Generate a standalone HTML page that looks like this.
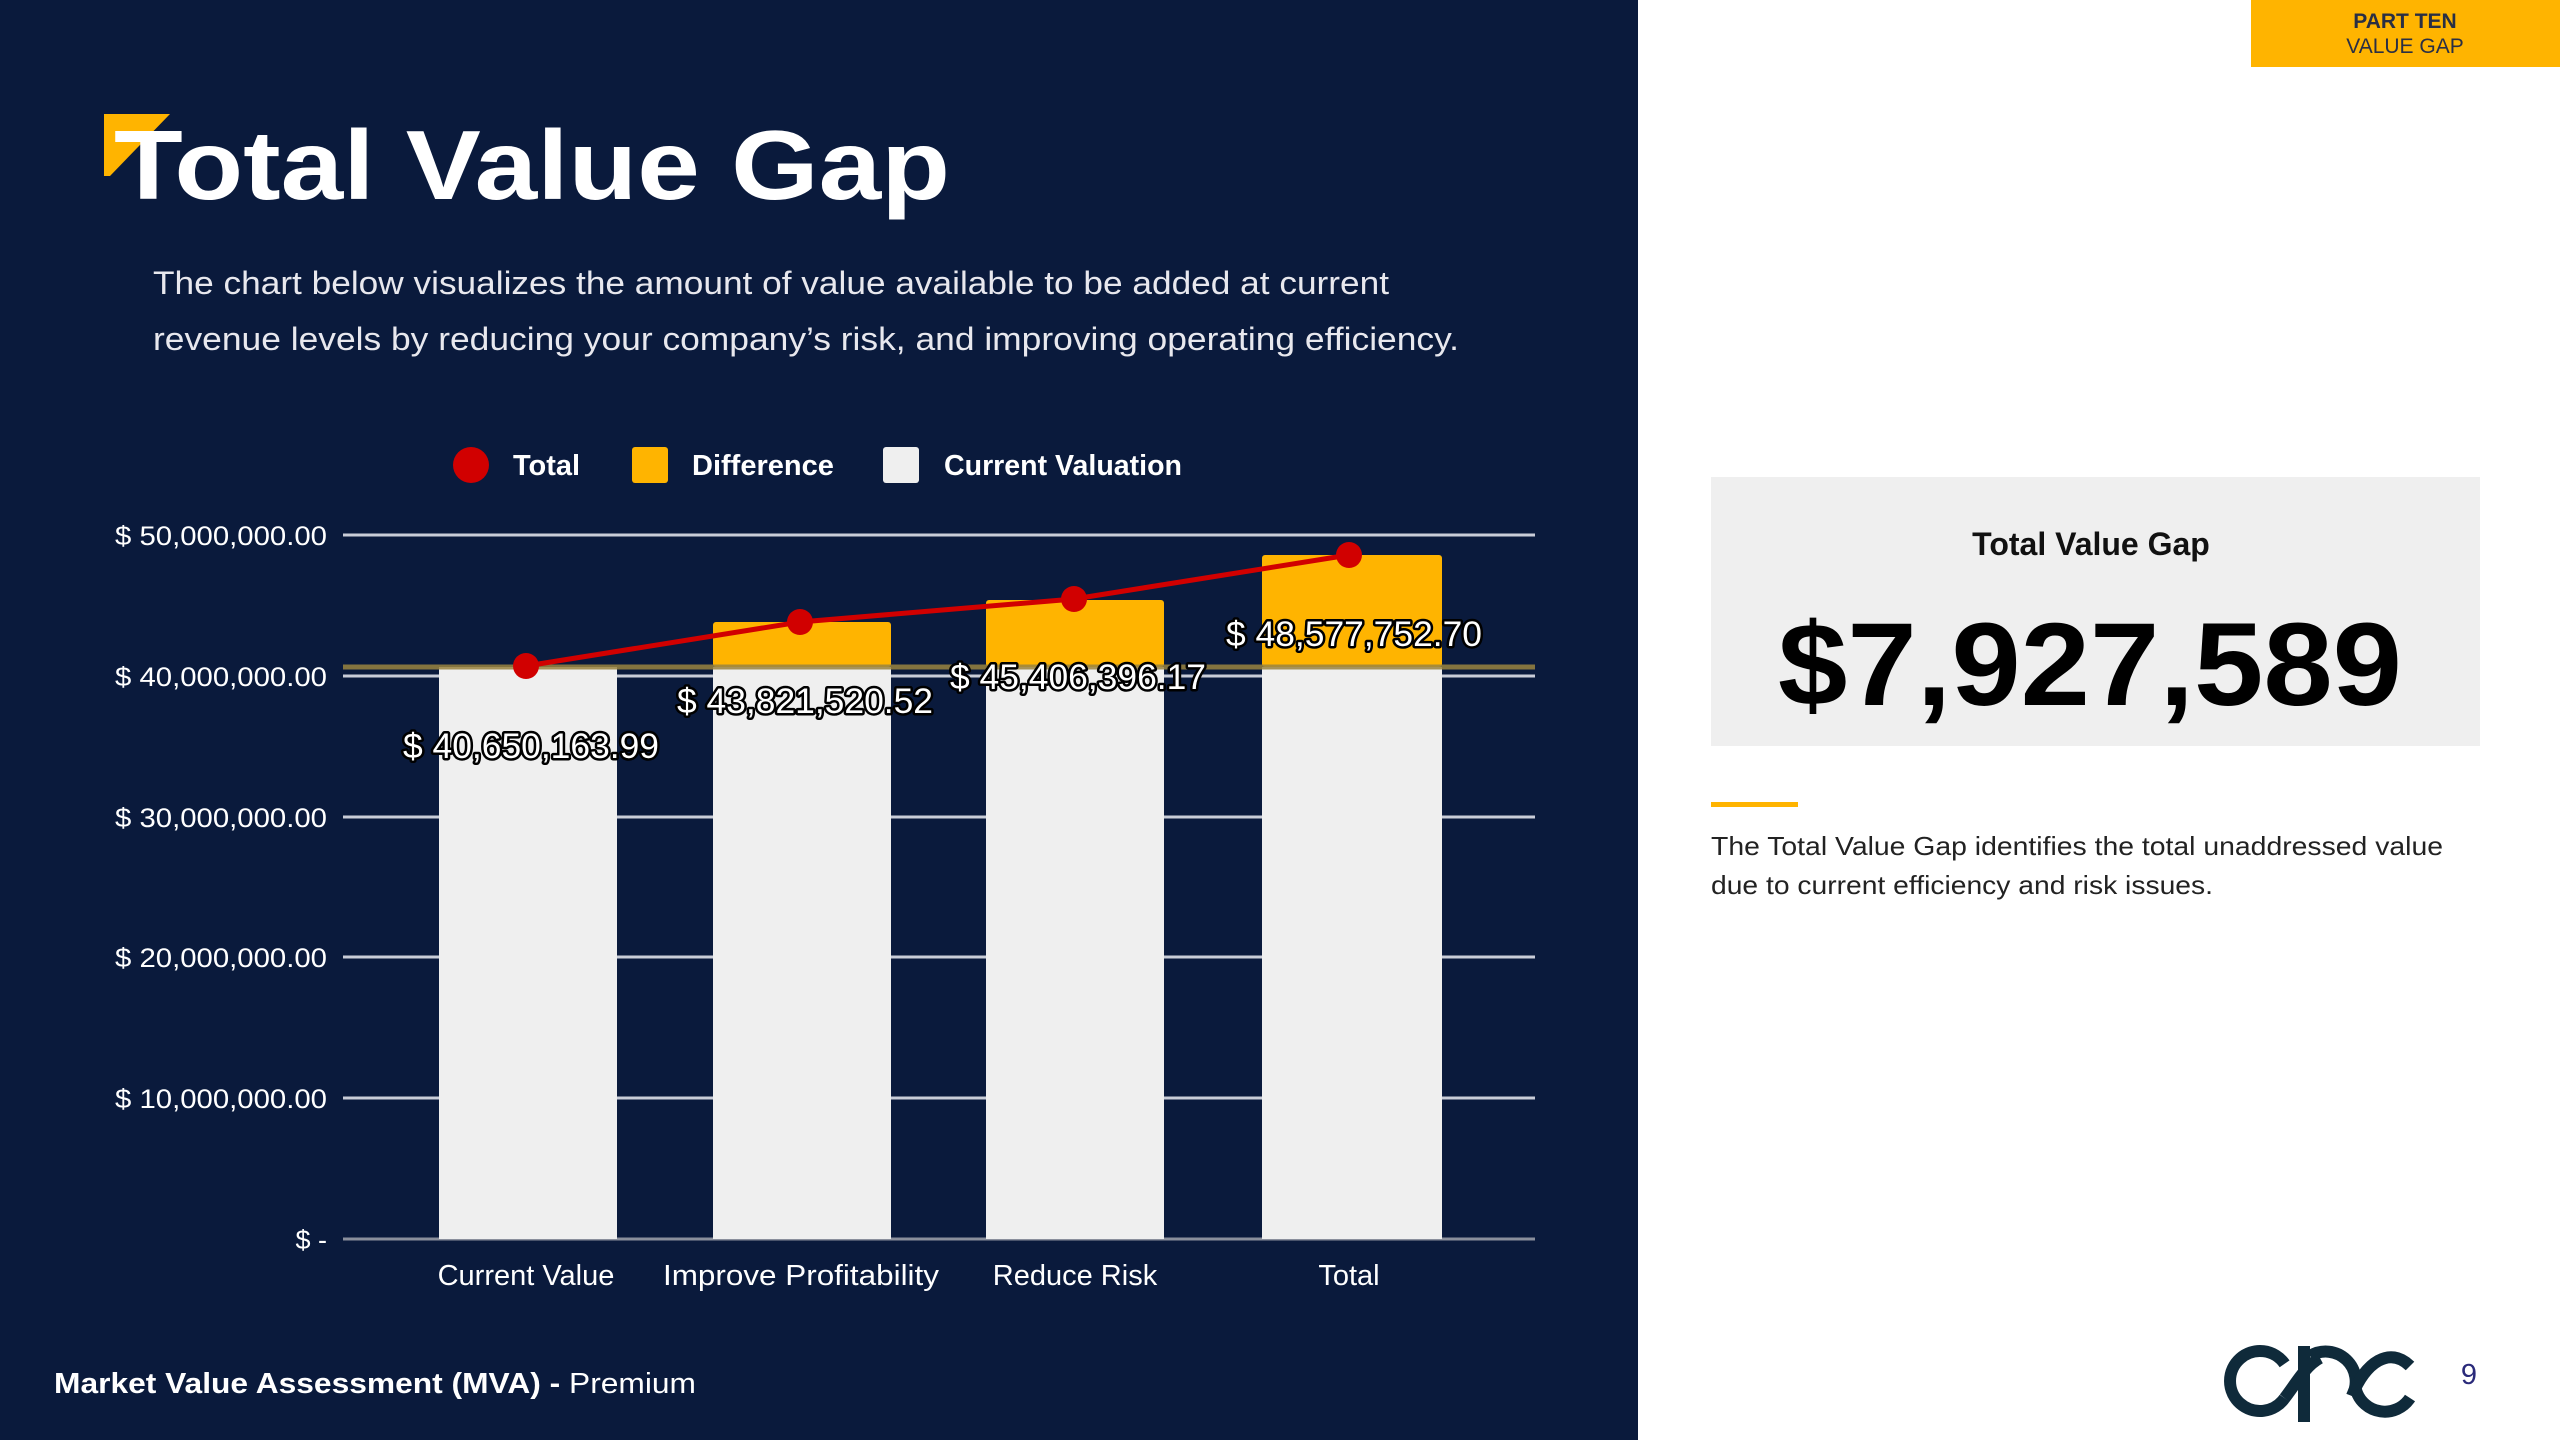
<!DOCTYPE html>
<html><head><meta charset="utf-8"><style>
html,body{margin:0;padding:0;width:2560px;height:1440px;overflow:hidden;background:#fff}
svg{display:block}
text{font-family:"Liberation Sans",sans-serif}
</style></head><body>
<svg width="2560" height="1440" viewBox="0 0 2560 1440" xmlns="http://www.w3.org/2000/svg">
<rect x="0" y="0" width="1638" height="1440" fill="#0a1a3c"/>
<!-- flag -->
<polygon points="104,114 170,114 110,176 104,176" fill="#ffb400"/>
<text x="114" y="199" font-size="98" font-weight="bold" fill="#fff" textLength="836" lengthAdjust="spacingAndGlyphs">Total Value Gap</text>
<text x="153" y="294" font-size="32" fill="#e8e8ee" textLength="1236" lengthAdjust="spacingAndGlyphs">The chart below visualizes the amount of value available to be added at current</text>
<text x="153" y="350" font-size="32" fill="#e8e8ee" textLength="1306" lengthAdjust="spacingAndGlyphs">revenue levels by reducing your company’s risk, and improving operating efficiency.</text>
<!-- legend -->
<circle cx="471" cy="465" r="18" fill="#d10000"/>
<text x="513" y="475" font-size="29" font-weight="bold" fill="#fff">Total</text>
<rect x="632" y="447" width="36" height="36" rx="3" fill="#ffb400"/>
<text x="692" y="475" font-size="29" font-weight="bold" fill="#fff">Difference</text>
<rect x="883" y="447" width="36" height="36" rx="3" fill="#efefef"/>
<text x="944" y="475" font-size="29" font-weight="bold" fill="#fff" textLength="238" lengthAdjust="spacingAndGlyphs">Current Valuation</text>
<!-- gridlines -->
<g stroke="#c9cdd8" stroke-width="3">
<line x1="343" y1="535" x2="1535" y2="535"/>
<line x1="343" y1="676" x2="1535" y2="676"/>
<line x1="343" y1="817" x2="1535" y2="817"/>
<line x1="343" y1="957" x2="1535" y2="957"/>
<line x1="343" y1="1098" x2="1535" y2="1098"/>
<line x1="343" y1="1239" x2="1535" y2="1239" stroke="#8a8f9c"/>
</g>
<g font-size="27" fill="#fff" text-anchor="end">
<text x="327" y="545" textLength="212" lengthAdjust="spacingAndGlyphs">$ 50,000,000.00</text>
<text x="327" y="686" textLength="212" lengthAdjust="spacingAndGlyphs">$ 40,000,000.00</text>
<text x="327" y="827" textLength="212" lengthAdjust="spacingAndGlyphs">$ 30,000,000.00</text>
<text x="327" y="967" textLength="212" lengthAdjust="spacingAndGlyphs">$ 20,000,000.00</text>
<text x="327" y="1108" textLength="212" lengthAdjust="spacingAndGlyphs">$ 10,000,000.00</text>
<text x="327" y="1249">$ -</text>
</g>
<!-- bars -->
<g fill="#efefef">
<rect x="439" y="667" width="178" height="572"/>
<rect x="713" y="667" width="178" height="572"/>
<rect x="986" y="667" width="178" height="572"/>
<rect x="1262" y="667" width="180" height="572"/>
</g>
<g fill="#ffb400">
<rect x="713" y="622" width="178" height="45" rx="3"/>
<rect x="986" y="600" width="178" height="67" rx="3"/>
<rect x="1262" y="555" width="180" height="112" rx="3"/>
</g>
<line x1="343" y1="667" x2="1535" y2="667" stroke="#9a8440" stroke-width="5" opacity="0.85"/>
<polyline points="526,666 800,622 1074,599 1349,555" fill="none" stroke="#d10000" stroke-width="5"/>
<g fill="#d10000">
<circle cx="526" cy="666" r="13"/><circle cx="800" cy="622" r="13"/><circle cx="1074" cy="599" r="13"/><circle cx="1349" cy="555" r="13"/>
</g>
<g font-size="35" fill="#fff" stroke="#000" stroke-width="5" paint-order="stroke" stroke-linejoin="round" text-anchor="middle">
<text x="531" y="758" textLength="256" lengthAdjust="spacingAndGlyphs">$ 40,650,163.99</text>
<text x="805" y="713" textLength="256" lengthAdjust="spacingAndGlyphs">$ 43,821,520.52</text>
<text x="1078" y="689" textLength="256" lengthAdjust="spacingAndGlyphs">$ 45,406,396.17</text>
<text x="1354" y="646" textLength="256" lengthAdjust="spacingAndGlyphs">$ 48,577,752.70</text>
</g>
<g font-size="29" fill="#fff" text-anchor="middle">
<text x="526" y="1285">Current Value</text>
<text x="801" y="1285" textLength="276" lengthAdjust="spacingAndGlyphs">Improve Profitability</text>
<text x="1075" y="1285">Reduce Risk</text>
<text x="1349" y="1285">Total</text>
</g>
<text x="54" y="1393" font-size="29" fill="#fff" textLength="642" lengthAdjust="spacingAndGlyphs"><tspan font-weight="bold">Market Value Assessment (MVA) - </tspan>Premium</text>
<!-- right side -->
<rect x="2251" y="0" width="309" height="67" fill="#ffb400"/>
<text x="2405" y="28" font-size="21" font-weight="bold" fill="#2a2f44" text-anchor="middle">PART TEN</text>
<text x="2405" y="53" font-size="21" fill="#2a2f44" text-anchor="middle">VALUE GAP</text>
<rect x="1711" y="477" width="769" height="269" fill="#efefef"/>
<text x="2091" y="555" font-size="32" font-weight="bold" fill="#111" text-anchor="middle">Total Value Gap</text>
<text x="2090" y="705" font-size="118" font-weight="bold" fill="#000" text-anchor="middle" textLength="624" lengthAdjust="spacingAndGlyphs">$7,927,589</text>
<rect x="1711" y="802" width="87" height="5" fill="#ffb400"/>
<text x="1711" y="855" font-size="26" fill="#222" textLength="732" lengthAdjust="spacingAndGlyphs">The Total Value Gap identifies the total unaddressed value</text>
<text x="1711" y="894" font-size="26" fill="#222" textLength="502" lengthAdjust="spacingAndGlyphs">due to current efficiency and risk issues.</text>
<!-- logo -->
<g fill="none" stroke="#0f2a3a" stroke-width="12">
<path d="M2284.6,1363.8 A30,30 0 1 0 2284.6,1398.2"/>
<path d="M2284.6,1398.2 C2295,1385 2305,1366 2320,1358"/>
<line x1="2304" y1="1346" x2="2304" y2="1422"/>
<path d="M2310,1356 A30,30 0 0 1 2352,1396"/>
<path d="M2352,1396 C2365,1362 2390,1346 2410,1366"/>
<path d="M2356,1390 A30,30 0 0 0 2410,1398"/>
</g>
<text x="2469" y="1384" font-size="29" fill="#2a2a7a" text-anchor="middle">9</text>
</svg>
</body></html>
